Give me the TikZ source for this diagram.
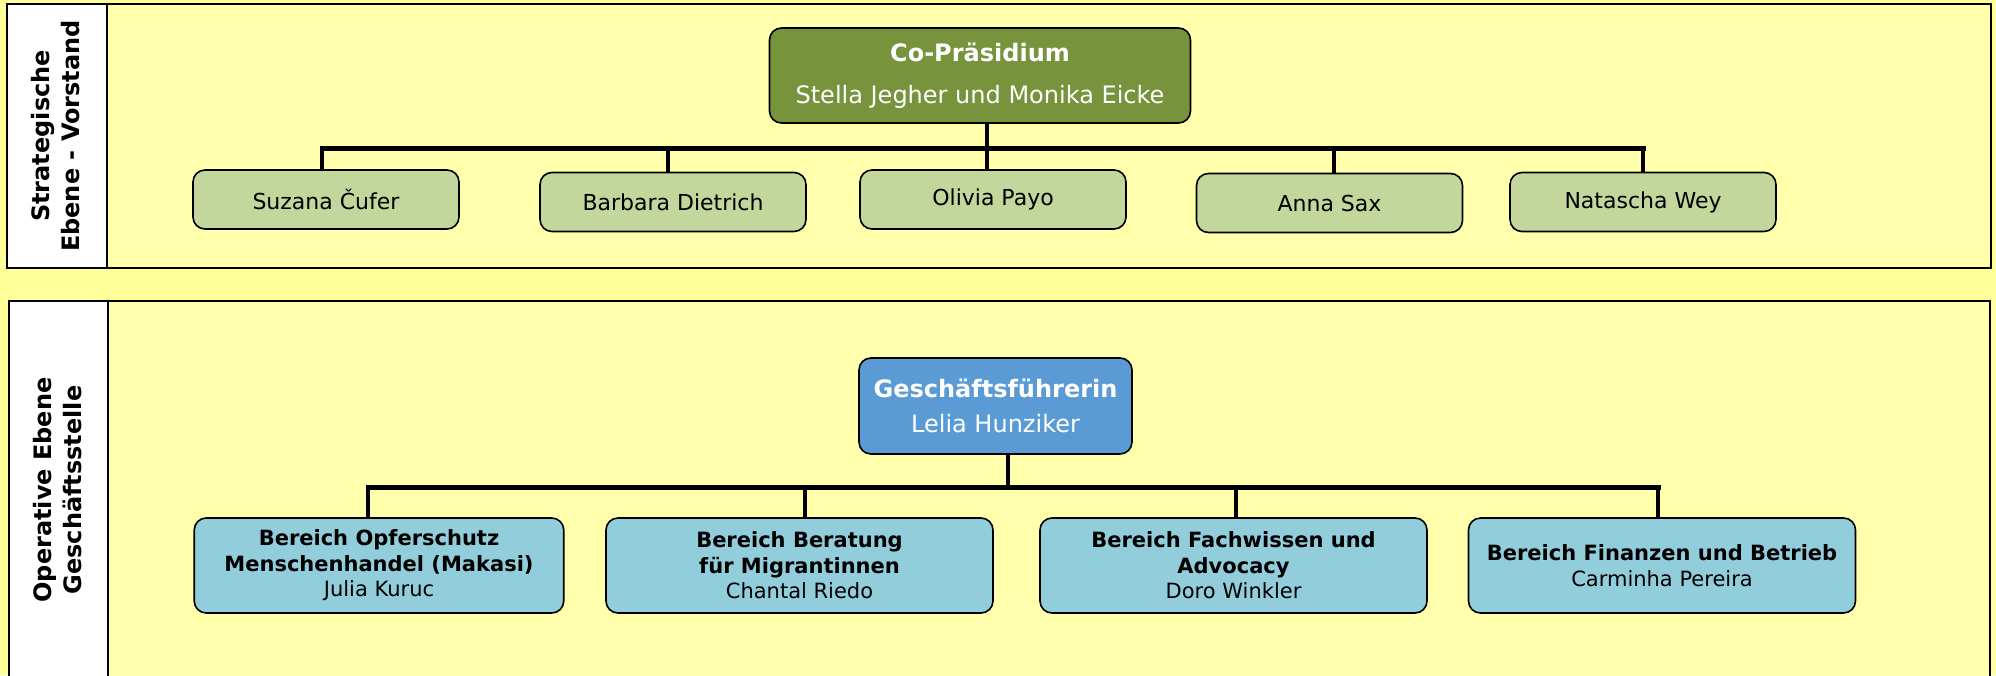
\documentclass[tikz,border=0pt]{standalone}
\usepackage{fontspec}
\setmainfont{DejaVu Sans}
\definecolor{bgyellow}{RGB}{255, 255, 153}
\definecolor{laneyellow}{RGB}{255, 255, 172}
\definecolor{chairgreen}{RGB}{119, 147, 60}
\definecolor{boardgreen}{RGB}{195, 214, 155}
\definecolor{headblue}{RGB}{91, 155, 213}
\definecolor{unitblue}{RGB}{146, 205, 220}
\usetikzlibrary{positioning, calc}
\tikzset{
    lane/.style={draw=black, line width=1pt, fill=laneyellow},
    lanetab/.style={draw=black, line width=1pt, fill=white},
    lanelabel/.style={rotate=90, align=center, font=\fontsize{12}{15}\selectfont\bfseries},
    chairbox/.style={rectangle, rounded corners=6pt, draw=black, line width=0.8pt, fill=chairgreen,
                     text=white, minimum width=210.5pt, minimum height=47.5pt, inner sep=0pt,
                     align=center, font=\fontsize{12}{21}\selectfont},
    boardbox/.style={rectangle, rounded corners=6pt, draw=black, line width=0.8pt, fill=boardgreen,
                     minimum width=133pt, minimum height=29.5pt, inner sep=0pt,
                     align=center, font=\fontsize{11}{13}\selectfont},
    headbox/.style={rectangle, rounded corners=6pt, draw=black, line width=0.8pt, fill=headblue,
                    text=white, minimum width=136.5pt, minimum height=48pt, inner sep=0pt,
                    align=center, font=\fontsize{12}{17.5}\selectfont},
    unitbox/.style={rectangle, rounded corners=6pt, draw=black, line width=0.8pt, fill=unitblue,
                    minimum width=193.5pt, minimum height=47.5pt, inner sep=0pt,
                    align=center, font=\fontsize{10.5}{12.75}\selectfont},
    busline/.style={line width=2.5pt, line cap=rect, black},
    dropline/.style={line width=2pt, black},
}

\begin{document}
\begin{tikzpicture}[x=0.5pt, y=-0.5pt]
    \useasboundingbox (0,0) rectangle (1996,675);
    \clip (0,0) rectangle (1996,675);
    \fill[bgyellow] (0,0) rectangle (1996,675);

    % Strategic level
    \draw[lane] (7,4) rectangle (1991,268);
    \draw[lanetab] (7,4) rectangle (107,268);
    \node[lanelabel] (strat) at (56,136) {Strategische\\Ebene - Vorstand};

    % Operative level
    \draw[lane] (9,301) rectangle (1990,690);
    \draw[lanetab] (9,301) rectangle (108,690);
    \node[lanelabel] (oper) at (57.5,490) {Operative Ebene\\Geschäftsstelle};

    % Board
    \node[chairbox] (cop) at (980,75.5) {\textbf{Co-Präsidium}\\Stella Jegher und Monika Eicke};
    \node[boardbox] (suzana) at (326,199.5) {Suzana Čufer};
    \node[boardbox] (barbara) at (673,202) {Barbara Dietrich};
    \node[boardbox] (olivia) at (993,199.5) {Olivia Payo};
    \node[boardbox] (anna) at (1329.5,203) {Anna Sax};
    \node[boardbox] (natascha) at (1643,202) {Natascha Wey};

    \coordinate (topbus) at (0,148);
    \draw[busline] ([xshift=-2pt]suzana.north |- topbus) -- (natascha.north |- topbus);
    \draw[dropline] ([xshift=3.5pt]cop.south) -- ([xshift=3.5pt]cop.south |- topbus);
    \draw[dropline] ([xshift=-2pt]suzana.north |- topbus) -- ([xshift=-2pt]suzana.north);
    \draw[dropline] ([xshift=-2.5pt]barbara.north |- topbus) -- ([xshift=-2.5pt]barbara.north);
    \draw[dropline] ([xshift=-3pt]olivia.north |- topbus) -- ([xshift=-3pt]olivia.north);
    \draw[dropline] ([xshift=2.25pt]anna.north |- topbus) -- ([xshift=2.25pt]anna.north);
    \draw[dropline] (natascha.north |- topbus) -- (natascha.north);

    % Office
    \node[headbox] (head) at (995.5,406) {\textbf{Geschäftsführerin}\\Lelia Hunziker};
    \node[unitbox, minimum width=184.75pt] (makasi) at (379,565.5)
        {\textbf{Bereich Opferschutz}\\\textbf{Menschenhandel (Makasi)}\\Julia Kuruc};
    \node[unitbox] (beratung) at (799.5,565.5)
        {\textbf{Bereich Beratung}\\\textbf{für Migrantinnen}\\Chantal Riedo};
    \node[unitbox] (fachwissen) at (1233.5,565.5)
        {\textbf{Bereich Fachwissen und}\\\textbf{Advocacy}\\Doro Winkler};
    \node[unitbox] (finanzen) at (1662,565.5)
        {\textbf{Bereich Finanzen und Betrieb}\\Carminha Pereira};

    \coordinate (opbus) at (0,487);
    \draw[busline] ([xshift=-5.5pt]makasi.north |- opbus) -- ([xshift=-2pt]finanzen.north |- opbus);
    \draw[dropline] ([xshift=6.25pt]head.south) -- ([xshift=6.25pt]head.south |- opbus);
    \draw[dropline] ([xshift=-5.5pt]makasi.north |- opbus) -- ([xshift=-5.5pt]makasi.north);
    \draw[dropline] ([xshift=2.75pt]beratung.north |- opbus) -- ([xshift=2.75pt]beratung.north);
    \draw[dropline] ([xshift=1pt]fachwissen.north |- opbus) -- ([xshift=1pt]fachwissen.north);
    \draw[dropline] ([xshift=-2pt]finanzen.north |- opbus) -- ([xshift=-2pt]finanzen.north);
\end{tikzpicture}
\end{document}
